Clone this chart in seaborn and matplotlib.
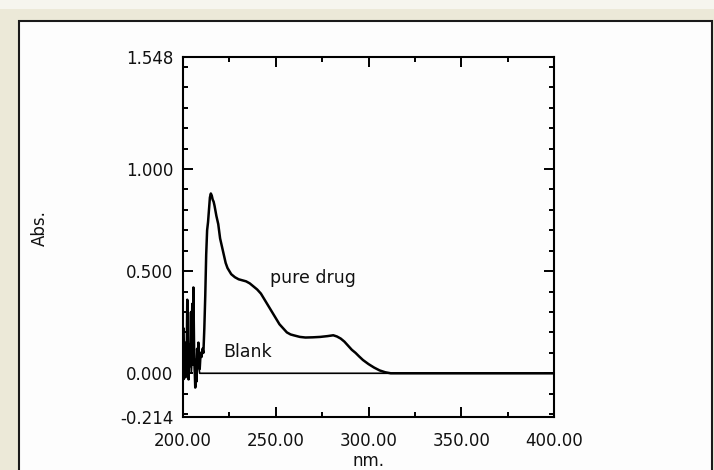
import numpy as np
import pandas as pd
import seaborn as sns
import matplotlib
matplotlib.use("Agg")
import matplotlib.pyplot as plt
from matplotlib.patches import Rectangle
from matplotlib.ticker import FixedLocator, MultipleLocator

# ---------------- data ----------------
drug_nm = [200.0, 200.3, 200.6, 201.0, 201.3, 201.6, 202.0, 202.3, 202.6, 203.0,
           203.3, 203.6, 204.0, 204.3, 204.6, 205.0, 205.3, 205.6, 206.0, 206.3,
           206.6, 207.0, 207.3, 207.6, 208.0, 208.3, 208.6, 209.0, 209.5, 210.0,
           210.5, 211.0, 211.5, 212.0, 212.5, 213.0, 213.5, 214.0, 214.5, 215.0,
           215.5, 216.0, 216.5, 217.0, 218.0, 219.0, 220.0, 221.0, 222.0, 223.0,
           224.0, 225.0, 226.0, 228.0, 230.0, 232.0, 234.0, 236.0, 238.0, 240.0,
           242.0, 244.0, 246.0, 248.0, 250.0, 252.0, 254.0, 256.0, 258.0, 260.0,
           263.0, 266.0, 270.0, 274.0, 278.0, 281.0, 283.0, 285.0, 287.0, 289.0,
           291.0, 293.0, 295.0, 297.0, 300.0, 303.0, 306.0, 309.0, 312.0, 400.0]
drug_abs = [0.20, 0.22, 0.05, 0.12, -0.02, 0.15, 0.08, 0.36, 0.10, -0.03,
            0.14, 0.06, 0.16, 0.30, 0.08, 0.34, 0.12, 0.42, 0.10, 0.02,
            -0.07, 0.05, -0.04, 0.12, 0.06, 0.15, 0.05, 0.02, 0.10, 0.08,
            0.12, 0.10, 0.22, 0.38, 0.58, 0.70, 0.74, 0.80, 0.86, 0.88,
            0.87, 0.85, 0.84, 0.82, 0.77, 0.73, 0.66, 0.62, 0.58, 0.54,
            0.515, 0.50, 0.485, 0.47, 0.46, 0.455, 0.45, 0.44, 0.425, 0.41,
            0.39, 0.36, 0.33, 0.30, 0.27, 0.24, 0.22, 0.20, 0.19, 0.185,
            0.178, 0.175, 0.176, 0.178, 0.182, 0.186, 0.18, 0.17, 0.155, 0.135,
            0.115, 0.10, 0.082, 0.065, 0.045, 0.028, 0.014, 0.005, 0.0, 0.0]

blank_nm = [200.0, 200.5, 201.0, 201.5, 202.0, 202.5, 203.0, 203.5, 204.0, 204.5,
            205.0, 205.5, 206.0, 206.5, 207.0, 207.5, 208.0, 208.5, 209.0, 210.0, 400.0]
blank_abs = [0.05, -0.03, 0.10, 0.02, 0.12, -0.02, 0.08, 0.03, 0.11, 0.0,
             0.09, 0.04, 0.13, -0.05, 0.07, 0.0, 0.10, 0.03, 0.0, 0.0, 0.0]

y_ticks = [-0.214, 0.0, 0.5, 1.0, 1.548]
x_ticks = [200, 250, 300, 350, 400]

# ---------------- plot ----------------
sns.set_style("ticks")
plt.rcParams['font.family'] = ['DejaVu Sans']
plt.rcParams['text.color'] = 'black'
plt.rcParams['axes.labelcolor'] = 'black'

W, H = 714, 470
fig = plt.figure(figsize=(W / 100, H / 100), dpi=100)
fig.patch.set_facecolor('#ECE9D8')
fig.patches.append(Rectangle((0, 1 - 9 / H), 1, 9 / H, transform=fig.transFigure,
                             facecolor='#F6F5EE', edgecolor='none', zorder=-6))
# window panel
fig.patches.append(Rectangle((19 / W, -0.05), (712 - 19) / W, 1.05 - 21 / H,
                             transform=fig.transFigure, facecolor='#FDFDFD',
                             edgecolor='#1a1a1a', linewidth=1.5, zorder=-5))

ax = fig.add_axes([183 / W, 1 - 417 / H, (554 - 183) / W, (417 - 57) / H])
ax.set_facecolor('#FDFDFD')

df_drug = pd.DataFrame({'nm': drug_nm, 'Abs': drug_abs})
df_blank = pd.DataFrame({'nm': blank_nm, 'Abs': blank_abs})
sns.lineplot(data=df_blank, x='nm', y='Abs', ax=ax, color='black', linewidth=1.2,
             estimator=None, sort=False)
sns.lineplot(data=df_drug, x='nm', y='Abs', ax=ax, color='black', linewidth=1.8,
             estimator=None, sort=False)

ax.set_xlim(200, 400)
ax.set_ylim(-0.214, 1.548)
ax.set_xticks(x_ticks)
ax.set_xticklabels([f"{v:.2f}" for v in x_ticks])
ax.set_yticks(y_ticks)
ax.set_yticklabels([f"{v:.3f}" for v in y_ticks])
ax.xaxis.set_minor_locator(MultipleLocator(25))
ax.yaxis.set_minor_locator(FixedLocator([v / 10 for v in range(-2, 16)]))
ax.tick_params(which='both', direction='in', top=True, right=True,
               color='black', width=1.4)
ax.tick_params(which='major', length=7.5, labelsize=12, colors='black',
               labelcolor='#111111')
ax.tick_params(which='minor', length=3.6)
ax.tick_params(axis='y', which='major', pad=7)
ax.tick_params(axis='x', which='major', pad=11)
for s in ax.spines.values():
    s.set_visible(True)
    s.set_linewidth(1.5)
    s.set_color('black')

ax.set_xlabel('nm.', fontsize=12, labelpad=1.5, color='#111111')
ax.set_ylabel('')
fig.text(40 / W, 1 - 228 / H, 'Abs.', rotation=90, ha='center', va='center',
         fontsize=12, color='#111111')

ax.text(246.9, 0.466, 'pure drug', fontsize=12.5, ha='left', va='center',
        color='#111111')
ax.text(221.5, 0.103, 'Blank', fontsize=12.5, ha='left', va='center',
        color='#111111')

fig.savefig('out.png', dpi=100, facecolor=fig.get_facecolor())
